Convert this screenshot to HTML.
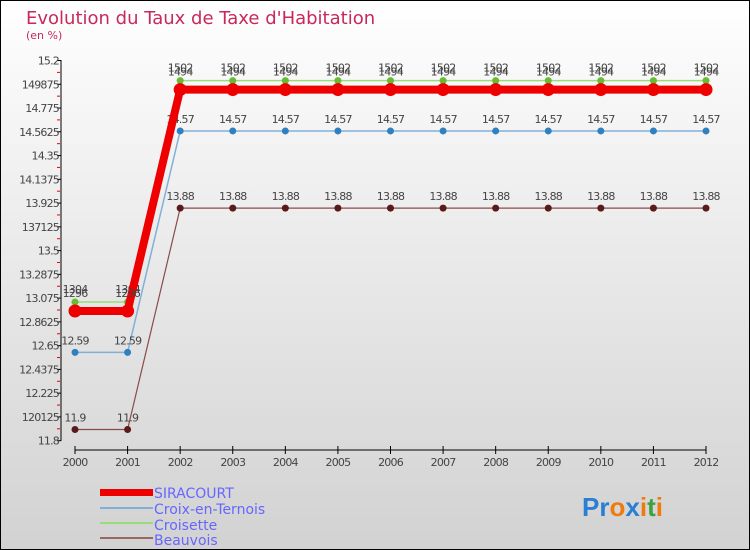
<!DOCTYPE html>
<html><head><meta charset="utf-8"><style>
body{margin:0;padding:0}
#wrap{width:750px;height:550px;position:relative;overflow:hidden;box-sizing:border-box;border:1px solid #000;background:linear-gradient(#ffffff,#fafafa 10%,#d2d2d2);font-family:"DejaVu Sans","Liberation Sans",sans-serif}
</style></head><body>
<div id="wrap">
<svg width="750" height="550" style="position:absolute;left:-1px;top:-1px">
<text x="26" y="24" font-size="18" fill="#c8285a">Evolution du Taux de Taxe d'Habitation</text>
<text x="26" y="39" font-size="11" fill="#c8285a">(en %)</text>
<g id="axes"></g><g id="series"></g>
<g font-size="14" fill="#6666ff">
<rect x="100" y="489" width="53" height="7" fill="#ee0000"/>
<text x="154" y="498">SIRACOURT</text>
<rect x="100" y="507" width="53" height="2" fill="#80b0d8"/>
<text x="154" y="514">Croix-en-Ternois</text>
<rect x="100" y="522" width="53" height="2" fill="#99dd77"/>
<text x="154" y="530">Croisette</text>
<rect x="100" y="537" width="53" height="2" fill="#996666"/>
<text x="154" y="545">Beauvois</text>
</g>
<g font-size="26" font-weight="bold" font-family="Liberation Sans,sans-serif">
<text x="582" y="516"><tspan fill="#2a7fd4">Pr</tspan><tspan fill="#f07a10">o</tspan><tspan fill="#2a7fd4">x</tspan><tspan fill="#f07a10">i</tspan><tspan fill="#40a040">t</tspan><tspan fill="#f07a10">i</tspan></text>
</g>
</svg>
</div>
<script>
const years=[2000,2001,2002,2003,2004,2005,2006,2007,2008,2009,2010,2011,2012];
const siracourt=[12.96,12.96,14.94,14.94,14.94,14.94,14.94,14.94,14.94,14.94,14.94,14.94,14.94];
const croix=[12.59,12.59,14.57,14.57,14.57,14.57,14.57,14.57,14.57,14.57,14.57,14.57,14.57];
const croisette=[13.04,13.04,15.02,15.02,15.02,15.02,15.02,15.02,15.02,15.02,15.02,15.02,15.02];
const beauvois=[11.9,11.9,13.88,13.88,13.88,13.88,13.88,13.88,13.88,13.88,13.88,13.88,13.88];
const yTicks=["11.8","120125","12.225","12.4375","12.65","12.8625","13.075","13.2875","13.5","137125","13.925","14.1375","14.35","14.5625","14.775","149875","15.2"];
const yMin=11.8,yMax=15.2;
const NS="http://www.w3.org/2000/svg";
function X(i){return 75+i*(706-75)/(years.length-1);}
function Y(v){return 440.7-(v-yMin)/(yMax-yMin)*380.2;}
function mk(t,a,p){const e=document.createElementNS(NS,t);for(const k in a)e.setAttribute(k,a[k]);p.appendChild(e);return e;}
const ax=document.getElementById('axes');
let l=mk('line',{x1:61,y1:60,x2:61,y2:441,stroke:'#000'},ax);


yTicks.forEach((t,i)=>{const v=yMin+i*(yMax-yMin)/(yTicks.length-1);const y=Y(v);
mk('line',{x1:57,y1:y,x2:61,y2:y,stroke:'#000'},ax);
if(i<yTicks.length-1){const ym=Y(v+(yMax-yMin)/(yTicks.length-1)/2);mk('line',{x1:57,y1:ym,x2:60,y2:ym,stroke:'#e00'},ax);}
const tx=mk('text',{x:59,y:y+4,'font-size':11,'text-anchor':'end',fill:'#444','letter-spacing':'-0.8'},ax);tx.textContent=t;

});
l=mk('line',{x1:75,y1:450,x2:706,y2:450,stroke:'#000'},ax);


years.forEach((yr,i)=>{const x=X(i);mk('line',{x1:x,y1:446,x2:x,y2:454,stroke:'#000'},ax);
const tx=mk('text',{x:x,y:466,'font-size':11,'text-anchor':'middle',fill:'#444','letter-spacing':'-0.8'},ax);tx.textContent=yr;

});
const sg=document.getElementById('series');
function draw(data,name,lc,pc,lw,r,fmt,dy){
const g=mk('g',{},sg);


mk('polyline',{points:data.map((v,i)=>X(i)+','+Y(v)).join(' '),fill:'none',stroke:lc,'stroke-width':lw},g);
data.forEach((v,i)=>{const c=mk('circle',{cx:X(i),cy:Y(v),r:r,fill:pc},g);


const t=mk('text',{x:X(i),y:Y(v)-dy,'font-size':11,'text-anchor':'middle',fill:'#444','letter-spacing':'-0.8'},g);t.textContent=String(v).replace(/^(\d\d)\.(\d+)$/,(m,a,b)=>fmt?a+b:m);

});}
draw(beauvois,'beauvois','#8b4a4a','#5a1a1a',1.2,3.5,false,8);
draw(croix,'croix-en-ternois','#80b0d8','#2e80c0',1.5,3.5,false,8);
draw(croisette,'croisette','#99dd77','#66bb33',1.5,3.5,true,9);
draw(siracourt,'siracourt','#ee0000','#ee0000',8,6.5,true,14);
</script>
</body></html>
